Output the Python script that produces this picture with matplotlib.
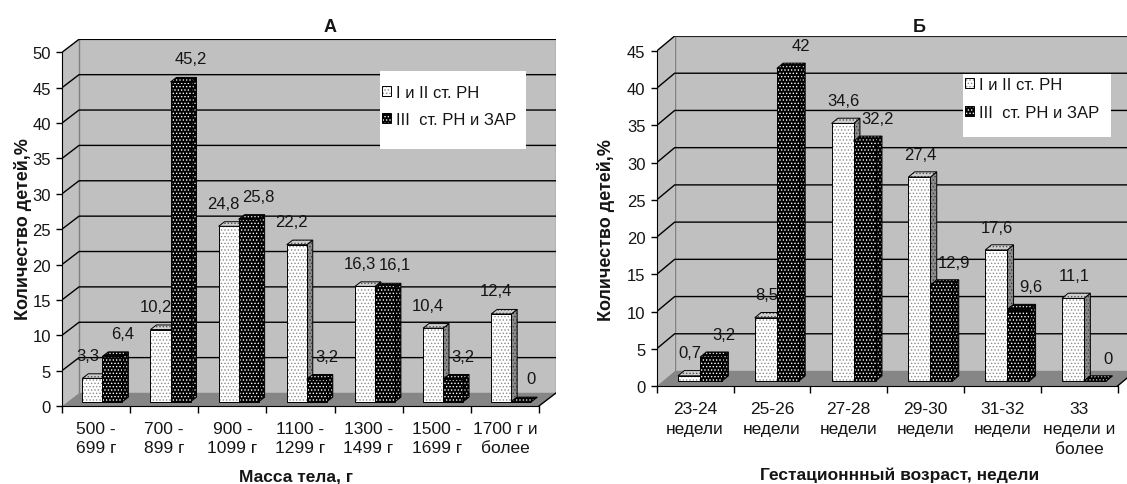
import numpy as np
import matplotlib.pyplot as plt
from matplotlib.patches import Polygon, Rectangle, Patch

plt.rcParams['font.family'] = ['Liberation Sans', 'DejaVu Sans']
plt.rcParams['hatch.linewidth'] = 0.6
plt.rcParams['text.color'] = '#151515'
plt.rcParams['xtick.color'] = 'black'
plt.rcParams['ytick.color'] = 'black'
plt.rcParams['xtick.labelcolor'] = '#151515'
plt.rcParams['ytick.labelcolor'] = '#151515'

# А: distribution by birth weight
mass_cats = ['500 -\n699 г', '700 -\n899 г', '900 -\n1099 г', '1100 -\n1299 г',
             '1300 -\n1499 г', '1500 -\n1699 г', '1700 г и\nболее']
mass_light = [3.3, 10.2, 24.8, 22.2, 16.3, 10.4, 12.4]
mass_dark = [6.4, 45.2, 25.8, 3.2, 16.1, 3.2, 0]

# Б: distribution by gestational age
gest_cats = ['23-24\nнедели', '25-26\nнедели', '27-28\nнедели', '29-30\nнедели',
             '31-32\nнедели', '33\nнедели и\nболее']
gest_light = [0.7, 8.5, 34.6, 27.4, 17.6, 11.1]
gest_dark = [3.2, 42, 32.2, 12.9, 9.6, 0]

series_names = ['I и II ст. РН', 'III  ст. РН и ЗАР']

W, H = 1127, 485
fig = plt.figure(figsize=(W / 100, H / 100), dpi=100)

DOTS = '.....'
# (face colour, dot colour) for front / top / side of each series
LIGHT = {'front': ('white', '#8a8a8a'), 'top': ('#d0d0d0', '#505050'), 'side': ('#8c8c8c', '#3a3a3a')}
DARK = {'front': ('black', 'white'), 'top': ('black', '#e0e0e0'), 'side': ('black', '#c8c8c8')}


def frame(x0, y0, x1, y1):
    # pixel box (origin top-left) -> figure fraction rect
    return [x0 / W, 1 - y1 / H, (x1 - x0) / W, (y1 - y0) / H]


def fpos(x, y):
    return x / W, 1 - y / H


def face(ax, pts, colors, z):
    fc, dc = colors
    ax.add_patch(Polygon(pts, closed=True, facecolor=fc, edgecolor=dc, lw=0,
                         hatch=DOTS, zorder=z))
    ax.add_patch(Polygon(pts, closed=True, fill=False, edgecolor='black',
                         lw=0.7, zorder=z + 0.01))


def panel(rect, cats, light, dark, ymax, dx, dy, off, w, label_dx, cat_pad, cat_spacing):
    ax = fig.add_axes(rect)
    n = len(cats)
    ax.set_xlim(0, n + dx)
    ax.set_ylim(0, ymax + dy)
    ax.patch.set_visible(False)
    ticks = np.arange(0, ymax + 1, 5)

    # walls
    ax.add_patch(Polygon([(0, 0), (dx, dy), (dx, ymax + dy), (0, ymax)],
                         facecolor='#c0c0c0', edgecolor='none', zorder=0.5))
    ax.add_patch(Polygon([(dx, dy), (n + dx, dy), (n + dx, ymax + dy), (dx, ymax + dy)],
                         facecolor='#c0c0c0', edgecolor='#808080', lw=1, zorder=0.6))
    for t in ticks[1:]:
        ax.plot([0, dx, n + dx], [t, t + dy, t + dy], color='black', lw=1, zorder=0.8)

    # floor
    ax.add_patch(Polygon([(0, 0), (n, 0), (n + dx, dy), (dx, dy)],
                         facecolor='#868686', edgecolor='none', zorder=0.9))
    ax.plot([n, n + dx], [0, dy], color='black', lw=1, zorder=0.95)

    # axes
    for side in ('top', 'right'):
        ax.spines[side].set_visible(False)
    ax.spines['left'].set_bounds(0, ymax)
    ax.spines['bottom'].set_bounds(0, n)
    ax.spines['left'].set_zorder(30)
    ax.spines['bottom'].set_zorder(30)
    ax.set_yticks(ticks)
    ax.set_yticklabels([str(t) for t in ticks], fontsize=12)
    ax.tick_params(axis='y', direction='out', length=4.5, width=1, pad=3.5)
    ax.set_xticks(np.arange(n + 1))
    ax.set_xticklabels([])
    ax.set_xticks(np.arange(n) + 0.5, minor=True)
    ax.set_xticklabels(cats, minor=True, fontsize=12.5, linespacing=cat_spacing)
    ax.tick_params(axis='x', which='major', direction='out', length=5, width=1)
    ax.tick_params(axis='x', which='minor', length=0, pad=cat_pad)

    # bars: front face sits a third of the way into the depth
    f, bd = 0.33, 0.35
    bx, by = bd * dx, bd * dy
    for i in range(n):
        for s, (v, style) in enumerate(((light[i], LIGHT), (dark[i], DARK))):
            x0 = i + off + s * w + f * dx
            y0 = f * dy
            z = 10 + 2 * i + s
            front = [(x0, y0), (x0 + w, y0), (x0 + w, y0 + v), (x0, y0 + v)]
            side = [(x0 + w, y0), (x0 + w + bx, y0 + by), (x0 + w + bx, y0 + v + by),
                    (x0 + w, y0 + v)]
            top = [(x0, y0 + v), (x0 + w, y0 + v), (x0 + w + bx, y0 + v + by),
                   (x0 + bx, y0 + v + by)]
            face(ax, side, style['side'], z)
            face(ax, front, style['front'], z + 0.1)
            face(ax, top, style['top'], z + 0.2)
            ax.annotate(f'{v:g}'.replace('.', ','), xy=(x0 + w / 2, y0 + v),
                        xytext=(label_dx[s], 23), textcoords='offset pixels',
                        ha='center', va='center', fontsize=12, zorder=40,
                        annotation_clip=False)
    return ax


def legend(ax, box, anchor, spacing):
    x0, y0, x1, y1 = box
    ax.add_patch(Rectangle(fpos(x0, y1), (x1 - x0) / W, (y1 - y0) / H,
                           transform=fig.transFigure, facecolor='white',
                           edgecolor='none', zorder=50))
    handles = []
    for style in (LIGHT, DARK):
        fc, dc = style['front']
        handles.append((Patch(facecolor=fc, edgecolor=dc, lw=0, hatch=DOTS),
                        Patch(fill=False, edgecolor='black', lw=0.7)))
    leg = ax.legend(handles, series_names, loc='upper left',
                    bbox_to_anchor=fpos(*anchor), bbox_transform=fig.transFigure,
                    frameon=False, fontsize=12, borderpad=0, borderaxespad=0,
                    handlelength=0.55, handleheight=0.55, handletextpad=0.3,
                    labelspacing=spacing)
    leg.set_zorder(60)


ax_a = panel(frame(62, 40.3, 556, 407), mass_cats, mass_light, mass_dark,
             50, 0.25, 1.84, 0.216, 0.294, (-5, 10), 11, 1.3)
legend(ax_a, (380, 72, 526, 150), (382, 86), 0.7)

ax_b = panel(frame(656.7, 37, 1135.5, 387), gest_cats, gest_light, gest_dark,
             45, 0.234, 2.015, 0.2, 0.287, (1, 13), 10.5, 1.42)
legend(ax_b, (963, 75, 1111, 138), (965, 78), 0.8)

fig.text(*fpos(330, 27), 'А', fontsize=13, fontweight='bold', ha='center', va='center')
fig.text(*fpos(919, 27), 'Б', fontsize=13, fontweight='bold', ha='center', va='center')
fig.text(*fpos(23, 229), 'Количество детей,%', fontsize=13, fontweight='bold',
         rotation=90, ha='center', va='center')
fig.text(*fpos(606, 230), 'Количество детей,%', fontsize=13, fontweight='bold',
         rotation=90, ha='center', va='center')
fig.text(*fpos(296, 477), 'Масса тела, г', fontsize=12.5, fontweight='bold',
         ha='center', va='center')
fig.text(*fpos(900, 475), 'Гестационнный возраст, недели', fontsize=12.5,
         fontweight='bold', ha='center', va='center')

fig.savefig('out.png', dpi=100)
